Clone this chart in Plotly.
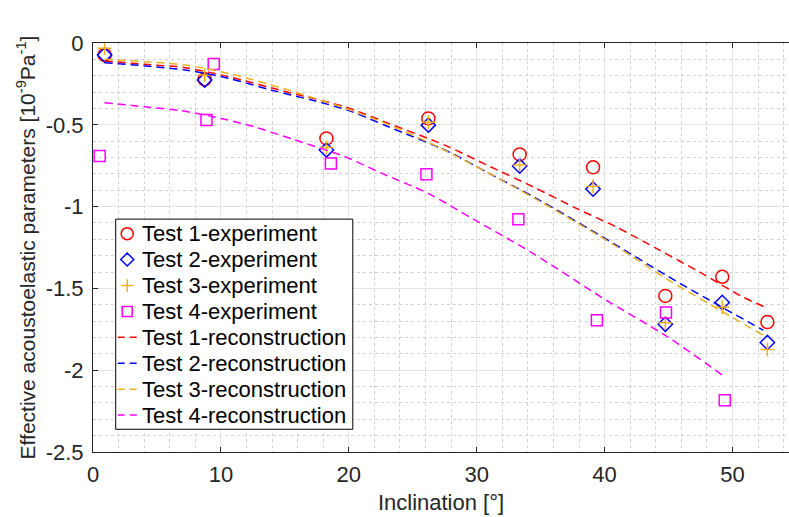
import plotly.graph_objects as go

# ---- data ----
x_exp = [0.91, 8.73, 18.25, 26.22, 33.36, 39.1, 44.75, 49.2, 52.73]
t1_exp = [-0.073, -0.222, -0.583, -0.461, -0.681, -0.760, -1.546, -1.429, -1.706]
t2_exp = [-0.073, -0.226, -0.654, -0.502, -0.752, -0.893, -1.719, -1.586, -1.831]
t3_exp = [-0.032, -0.196, -0.638, -0.485, -0.745, -0.875, -1.710, -1.613, -1.873]

x4_exp = [0.52, 8.87, 9.44, 18.6, 26.07, 33.26, 39.4, 44.8, 49.4]
t4_exp = [-0.691, -0.471, -0.128, -0.736, -0.803, -1.078, -1.694, -1.647, -2.184]

x1_rec = [0.9, 4.0, 7.2, 10.6, 15.3, 19.7, 23.1, 27.5, 30.8, 34.4, 37.8, 40.9, 44.3, 47.4, 50.8, 52.7]
t1_rec = [-0.11, -0.13, -0.151, -0.206, -0.302, -0.39, -0.491, -0.624, -0.746, -0.879, -1.011,
          -1.124, -1.266, -1.399, -1.552, -1.62]

x2_rec = [0.9, 7.2, 10.6, 13.9, 17.1, 19.9, 23.1, 27.8, 30.8, 34.9, 40.9, 44.8, 48.2, 52.4]
t2_rec = [-0.12, -0.165, -0.216, -0.287, -0.349, -0.41, -0.512, -0.665, -0.79, -0.96, -1.235,
          -1.419, -1.572, -1.755]

x3_rec = [0.9, 7.2, 10.6, 15.3, 20.7, 24.1, 27.2, 30.8, 34.9, 40.9, 44.8, 48.2, 52.4]
t3_rec = [-0.10, -0.135, -0.186, -0.288, -0.426, -0.532, -0.644, -0.79, -0.966, -1.242, -1.439,
          -1.596, -1.786]

x4_rec = [0.9, 4.05, 6.9, 10.0, 12.6, 15.8, 19.7, 22.6, 26.2, 29.7, 34.4, 39.9, 44.8, 49.3]
t4_rec = [-0.365, -0.39, -0.414, -0.461, -0.512, -0.593, -0.695, -0.797, -0.919, -1.075, -1.286,
          -1.561, -1.79, -2.035]

x_ticks = [0, 10, 20, 30, 40, 50]
y_ticks = [0, -0.5, -1, -1.5, -2, -2.5]
y_ticktext = ["0", "-0.5", "-1", "-1.5", "-2", "-2.5"]

names_exp = ["Test 1-experiment", "Test 2-experiment", "Test 3-experiment", "Test 4-experiment"]
names_rec = ["Test 1-reconstruction", "Test 2-reconstruction", "Test 3-reconstruction", "Test 4-reconstruction"]

# ---- styles ----
RED, BLUE, ORANGE, MAGENTA = "#FF0000", "#0000FF", "#EDB120", "#FF00FF"
COLORS = [RED, BLUE, ORANGE, MAGENTA]
MARKERS = [("circle-open", 13), ("diamond-open", 11), ("cross-thin-open", 10), ("square-open", 11)]
FONT = "Arial, Liberation Sans, sans-serif"
TXT = "#262626"
DASH = "8px,5px"

fig = go.Figure()

exp_sets = [(x_exp, t1_exp), (x_exp, t2_exp), (x_exp, t3_exp), (x4_exp, t4_exp)]
rec_sets = [(x1_rec, t1_rec), (x2_rec, t2_rec), (x3_rec, t3_rec), (x4_rec, t4_rec)]

for (xs, ys), nm, col, (sym, sz) in zip(exp_sets, names_exp, COLORS, MARKERS):
    fig.add_trace(go.Scatter(x=xs, y=ys, mode="markers", name=nm, showlegend=False,
                             marker=dict(symbol=sym, size=sz, color=col, line=dict(width=1.5, color=col))))
for (xs, ys), nm, col in zip(rec_sets, names_rec, COLORS):
    fig.add_trace(go.Scatter(x=xs, y=ys, mode="lines", name=nm, showlegend=False,
                             line=dict(color=col, width=1.5, dash=DASH, shape="spline", smoothing=0.8)))

# ---- top axis (ticks only) ----
fig.add_trace(go.Scatter(x=[0], y=[None], xaxis="x2", showlegend=False, hoverinfo="skip"))

# ---- legend box, drawn on an overlay axis measured in pixels ----
L, T, R, B = 93.3, 43.0, 789.0, 451.7          # plot area in pixels
LEG_L, LEG_T, LEG_R, LEG_B = 116, 219, 353, 429
ROW0, ROW_H = 233.5, 25.9
SYM_X, TXT_X = 127.5, 140
LINE_X0, LINE_X1 = 118, 137

fig.add_trace(go.Scatter(x=[LEG_L, LEG_R, LEG_R, LEG_L, LEG_L], y=[LEG_T, LEG_T, LEG_B, LEG_B, LEG_T],
                         mode="lines", fill="toself", fillcolor="white",
                         line=dict(color="#000000", width=1), xaxis="x3", yaxis="y3",
                         showlegend=False, hoverinfo="skip"))
labels = names_exp + names_rec
for i, nm in enumerate(labels):
    yy = ROW0 + i * ROW_H
    if i < 4:
        sym, sz = MARKERS[i]
        col = COLORS[i]
        fig.add_trace(go.Scatter(x=[SYM_X], y=[yy], mode="markers", xaxis="x3", yaxis="y3",
                                 marker=dict(symbol=sym, size=sz - 1, color=col, line=dict(width=1.5, color=col)),
                                 showlegend=False, hoverinfo="skip"))
    else:
        col = COLORS[i - 4]
        fig.add_trace(go.Scatter(x=[LINE_X0, LINE_X1], y=[yy, yy], mode="lines", xaxis="x3", yaxis="y3",
                                 line=dict(color=col, width=1.5, dash="7px,5px"),
                                 showlegend=False, hoverinfo="skip"))
    fig.add_annotation(x=TXT_X, y=yy, xref="x3", yref="y3", text=nm, showarrow=False,
                       xanchor="left", yanchor="middle", font=dict(family=FONT, size=22, color="#000000"))

XR = [0, 54.42]
fig.update_layout(
    width=789, height=517,
    margin=dict(l=93, r=0, t=43, b=65),
    paper_bgcolor="white", plot_bgcolor="white",
    font=dict(family=FONT, size=22, color=TXT),
    showlegend=False,
    xaxis=dict(range=XR, tickvals=x_ticks, ticks="inside", ticklen=5, tickwidth=1, tickcolor=TXT,
               showline=True, linecolor=TXT, linewidth=1, mirror=False,
               showgrid=True, gridcolor="#E3E3E3", gridwidth=1, zeroline=False,
               minor=dict(dtick=2, showgrid=True, griddash="dot", gridcolor="#D2D2D2", gridwidth=1, ticks=""),
               tickfont=dict(size=22, color=TXT, family=FONT), ticklabelstandoff=3,
               title=dict(text="Inclination [°]", font=dict(size=22, color=TXT), standoff=8),
               automargin=False),
    xaxis2=dict(range=XR, overlaying="x", side="top", matches="x", tickvals=x_ticks,
                ticks="inside", ticklen=5, tickwidth=1, tickcolor=TXT,
                showline=True, linecolor=TXT, linewidth=1, showticklabels=False,
                showgrid=False, zeroline=False),
    xaxis3=dict(range=[L, R], overlaying="x", visible=False, fixedrange=True),
    yaxis3=dict(range=[B, T], overlaying="y", visible=False, fixedrange=True),
    yaxis=dict(range=[-2.5, 0], tickvals=y_ticks, ticktext=y_ticktext,
               ticks="inside", ticklen=5, tickwidth=1, tickcolor=TXT,
               showline=True, linecolor=TXT, linewidth=1, mirror=False,
               showgrid=True, gridcolor="#E3E3E3", gridwidth=1, zeroline=False,
               minor=dict(dtick=0.1, showgrid=True, griddash="dot", gridcolor="#D2D2D2", gridwidth=1, ticks=""),
               tickfont=dict(size=22, color=TXT, family=FONT), ticklabelstandoff=4,
               title=dict(text="Effective acoustoelastic parameters [10<sup>-9</sup>Pa<sup>-1</sup>]",
                          font=dict(size=21, color=TXT), standoff=4),
               automargin=False),
)

fig.write_html("out.html")
